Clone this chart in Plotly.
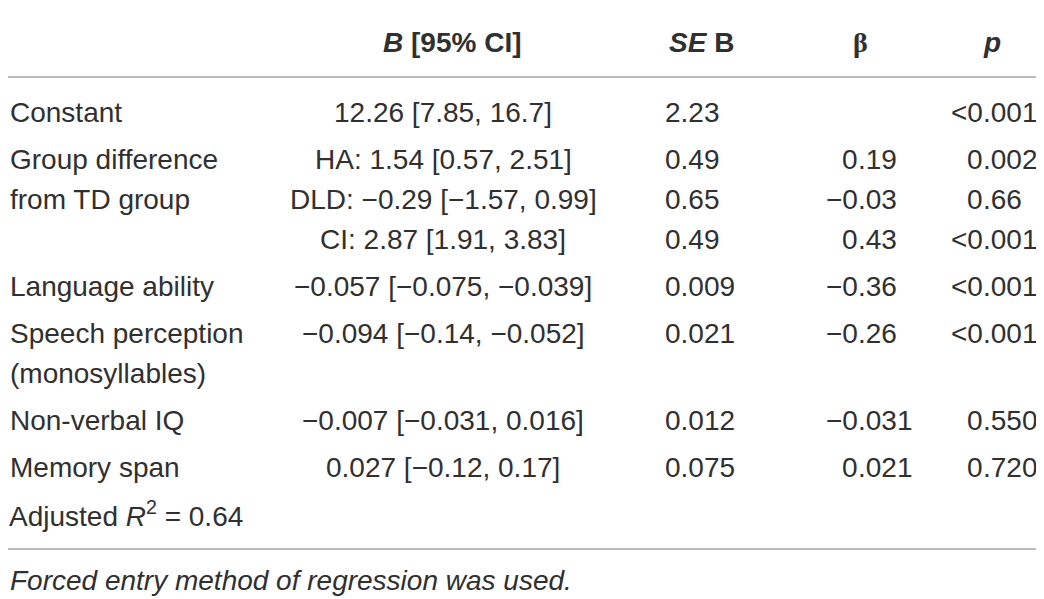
"""
Regression table (forced entry) redrawn as a Plotly figure.
"""

import plotly.graph_objects as go

W, H = 1044, 599
PAGE_PAD = 8          # default body margin of the html page
FONT = "Liberation Sans"
SIZE = 28
INK = "#303030"
RULE = "#a6a6a6"

# --- table content, one entry per printed line ---
line_labels = ["Constant", "Group difference", "from TD group", "",
               "Language ability", "Speech perception", "(monosyllables)",
               "Non-verbal IQ", "Memory span"]
row_lines = [1, 3, 1, 2, 1, 1]          # printed lines per table row
b_ci = ["12.26 [7.85, 16.7]", "HA: 1.54 [0.57, 2.51]",
        "DLD: −0.29 [−1.57, 0.99]", "CI: 2.87 [1.91, 3.83]",
        "−0.057 [−0.075, −0.039]", "−0.094 [−0.14, −0.052]", "",
        "−0.007 [−0.031, 0.016]", "0.027 [−0.12, 0.17]"]
se_b = ["2.23", "0.49", "0.65", "0.49", "0.009", "0.021", "", "0.012", "0.075"]
beta = ["", "0.19", "−0.03", "0.43", "−0.36", "−0.26", "", "−0.031", "0.021"]
p_val = ["&lt;0.001", "0.002", "0.66", "&lt;0.001", "&lt;0.001", "&lt;0.001", "",
         "0.550", "0.720"]

headers = ["<b><i>B</i> [95% CI]</b>", "<b><i>SE</i> B</b>", "<b>β</b>", "<b><i>p</i></b>"]
adj_r2 = "Adjusted <i>R</i><sup>2</sup> = 0.64"
footnote = "<i>Forced entry method of regression was used.</i>"

# --- layout geometry (reference pixels) ---
FIRST_Y, LINE_STEP, ROW_GAP = 112, 40, 7
X_LABEL, X_B, X_SE, X_BETA_DEC, X_P_DEC = 10, 443, 665, 858, 983
HEAD_X = [452, 701, 860, 992]
HEAD_Y, FOOT_Y = 42, 580
RULES_Y = [5, 77, 549]

ys = []
for r, n in enumerate(row_lines):
    for k in range(n):
        ys.append(FIRST_Y + LINE_STEP * len(ys) + ROW_GAP * r)
adj_y = ys[-1] + LINE_STEP + ROW_GAP


def split_dec(s):
    if "." not in s:
        return s, ""
    i = s.index(".")
    return s[:i], s[i:]


fig = go.Figure()


def put(x, y, text, anchor, family=FONT):
    if not text:
        return
    fig.add_annotation(x=x, y=y, text=text, showarrow=False, xanchor=anchor,
                       yanchor="middle", borderpad=0, borderwidth=0,
                       font=dict(family=family, size=SIZE, color=INK))


for i, y in enumerate(ys):
    put(X_LABEL, y, line_labels[i], "left")
    put(X_B, y, b_ci[i], "center")
    put(X_SE, y, se_b[i], "left")
    bi, bf = split_dec(beta[i])
    put(X_BETA_DEC, y, bi, "right")
    put(X_BETA_DEC, y, bf, "left")
    pi, pf = split_dec(p_val[i])
    put(X_P_DEC, y, pi, "right")
    put(X_P_DEC, y, pf, "left")

# anchor must stay inside the axis range or plotly hides it
put(PAGE_PAD + 0.5, adj_y, adj_r2, "left")

for hx, ht in zip(HEAD_X, headers):
    put(hx, HEAD_Y, ht, "center", "Liberation Serif" if "β" in ht else FONT)

put(X_LABEL, FOOT_Y, footnote, "left")

for yy in RULES_Y:
    fig.add_shape(type="line", x0=0, x1=W, y0=yy, y1=yy,
                  line=dict(color=RULE, width=1.6))

# the page adds an 8px margin, so the axes show reference pixels 8..W / 8..H
fig.update_layout(
    width=W - PAGE_PAD, height=H - PAGE_PAD,
    margin=dict(l=0, r=0, t=0, b=0),
    paper_bgcolor="white", plot_bgcolor="white",
    showlegend=False, hovermode=False,
    xaxis=dict(range=[PAGE_PAD, W], visible=False, fixedrange=True),
    yaxis=dict(range=[H, PAGE_PAD], visible=False, fixedrange=True),
)

fig.write_html("out.html")
